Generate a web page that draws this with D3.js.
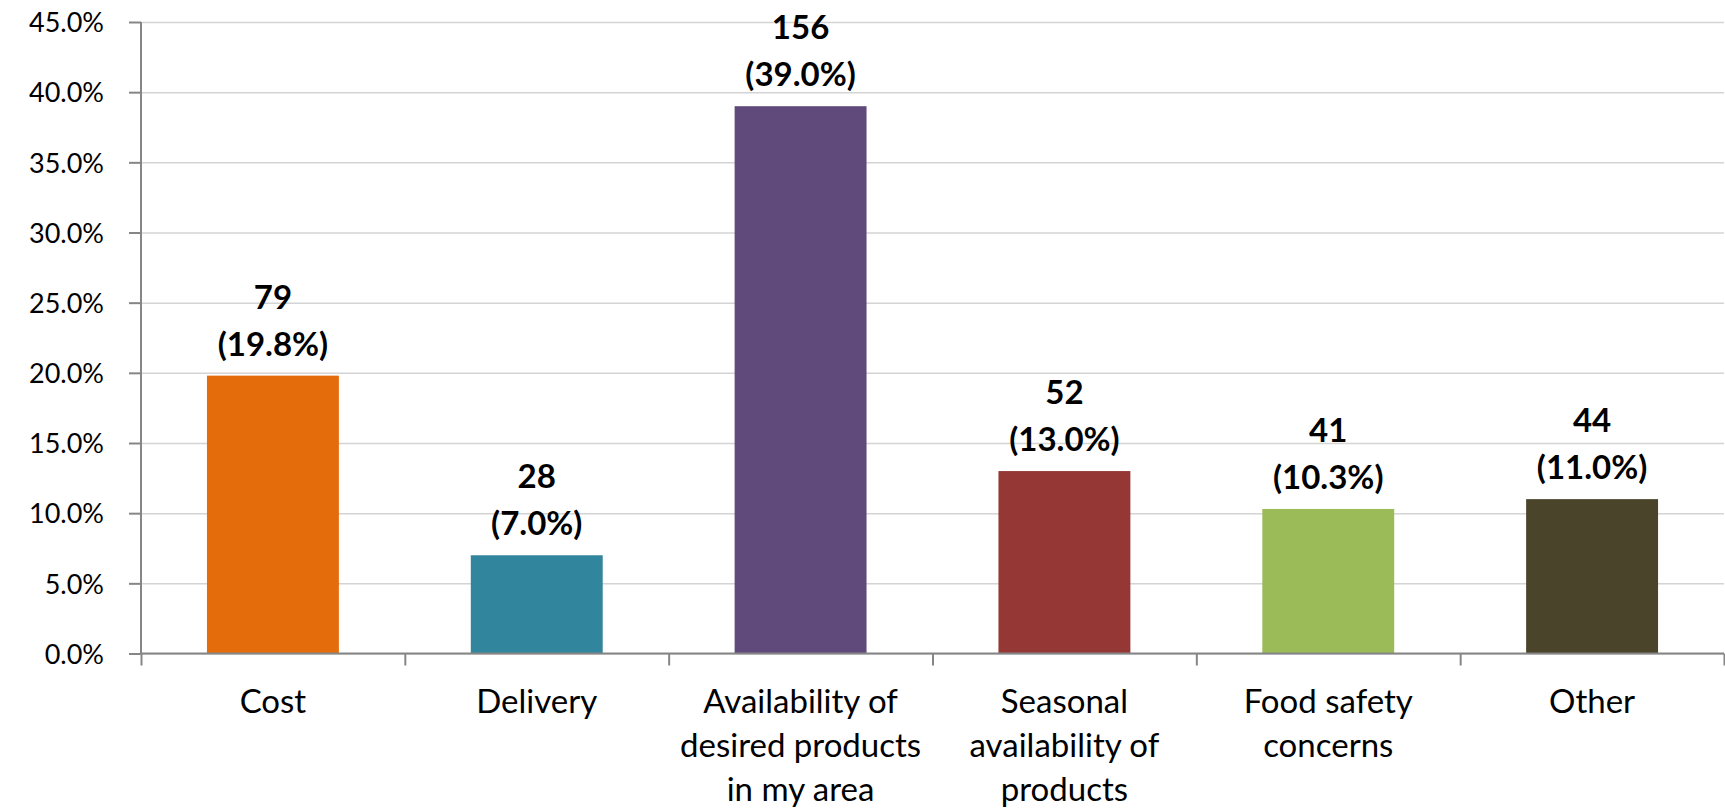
<!DOCTYPE html>
<html>
<head>
<meta charset="utf-8">
<script src="https://cdn.jsdelivr.net/npm/d3@7"></script>
<style>
  html, body { margin: 0; padding: 0; background: #ffffff; }
  svg { display: block; }
</style>
</head>
<body>
<div id="chart"></div>
<script>
// ---- data ----
const categories = ["Cost", "Delivery", "Availability of desired products in my area", "Seasonal availability of products", "Food safety concerns", "Other"];
const categoryLines = [["Cost"], ["Delivery"], ["Availability of", "desired products", "in my area"], ["Seasonal", "availability of", "products"], ["Food safety", "concerns"], ["Other"]];
const counts = [79, 28, 156, 52, 41, 44];
const percents = [19.8, 7.0, 39.0, 13.0, 10.3, 11.0];
const barColors = ["#E46C0A", "#31859C", "#604A7B", "#953735", "#9BBB59", "#4A452A"];
const yTicks = [0, 5, 10, 15, 20, 25, 30, 35, 40, 45];

// ---- layout ----
const W = 1725, H = 812;
const plot = { left: 141, right: 1724, top: 22, bottom: 653.5 };
const FONT = "Lato, 'Open Sans', sans-serif";

const svg = d3.select("#chart").append("svg").attr("width", W).attr("height", H);

const x = d3.scaleBand().domain(categories).range([plot.left, plot.right]).paddingInner(0.5).paddingOuter(0.25);
const xEdge = d3.scaleLinear().domain([0, categories.length]).range([plot.left, plot.right]);
const y = d3.scaleLinear().domain([0, 45]).range([plot.bottom, plot.top]);

// gridlines
svg.append("g")
  .attr("transform", `translate(${plot.left},0)`)
  .call(d3.axisLeft(y).tickValues(yTicks).tickSize(-(plot.right - plot.left)).tickFormat(""))
  .call(g => g.select(".domain").remove())
  .call(g => g.selectAll(".tick line").attr("stroke", "#D4D4D4").attr("stroke-width", 1.5));

// bars
svg.append("g").selectAll("rect")
  .data(categories)
  .join("rect")
  .attr("x", d => x(d))
  .attr("width", x.bandwidth())
  .attr("y", (d, i) => y(percents[i]))
  .attr("height", (d, i) => y(0) - y(percents[i]))
  .attr("fill", (d, i) => barColors[i]);

// y axis
const yAxis = svg.append("g")
  .attr("transform", `translate(${plot.left},0)`)
  .call(d3.axisLeft(y).tickValues(yTicks).tickSize(12).tickPadding(25).tickFormat(d => d.toFixed(1) + "%"));
yAxis.select(".domain").attr("stroke", "#868686").attr("stroke-width", 2).attr("d", `M0,${plot.top}V${plot.bottom}`);
yAxis.selectAll(".tick line").attr("stroke", "#868686").attr("stroke-width", 2);
yAxis.selectAll(".tick text").attr("font-family", FONT).attr("font-size", 27).attr("fill", "#000").attr("dy", "0.36em");

// x axis (ticks at category boundaries)
const xAxis = svg.append("g")
  .attr("transform", `translate(0,${plot.bottom})`)
  .call(d3.axisBottom(xEdge).tickValues(d3.range(categories.length + 1)).tickSize(12).tickFormat(""));
xAxis.select(".domain").attr("stroke", "#868686").attr("stroke-width", 2).attr("d", `M${plot.left},0H${plot.right}`);
xAxis.selectAll(".tick line").attr("stroke", "#868686").attr("stroke-width", 2);

// category labels
const catG = svg.append("g");
categories.forEach((c, i) => {
  const t = catG.append("text")
    .attr("x", x(c) + x.bandwidth() / 2)
    .attr("y", 713)
    .attr("text-anchor", "middle")
    .attr("font-family", FONT)
    .attr("font-size", 33)
    .attr("fill", "#000");
  categoryLines[i].forEach((line, j) => {
    t.append("tspan").attr("x", x(c) + x.bandwidth() / 2).attr("dy", j === 0 ? 0 : 44).text(line);
  });
});

// data labels
const lblG = svg.append("g");
categories.forEach((c, i) => {
  const cx = x(c) + x.bandwidth() / 2;
  const top = y(percents[i]);
  lblG.append("text")
    .attr("x", cx).attr("y", top - 67)
    .attr("text-anchor", "middle").attr("font-family", FONT).attr("font-weight", "bold")
    .attr("font-size", 33).attr("fill", "#000")
    .text(counts[i]);
  lblG.append("text")
    .attr("x", cx).attr("y", top - 20)
    .attr("text-anchor", "middle").attr("font-family", FONT).attr("font-weight", "bold")
    .attr("font-size", 33).attr("fill", "#000")
    .text("(" + percents[i].toFixed(1) + "%)");
});
</script>
</body>
</html>
